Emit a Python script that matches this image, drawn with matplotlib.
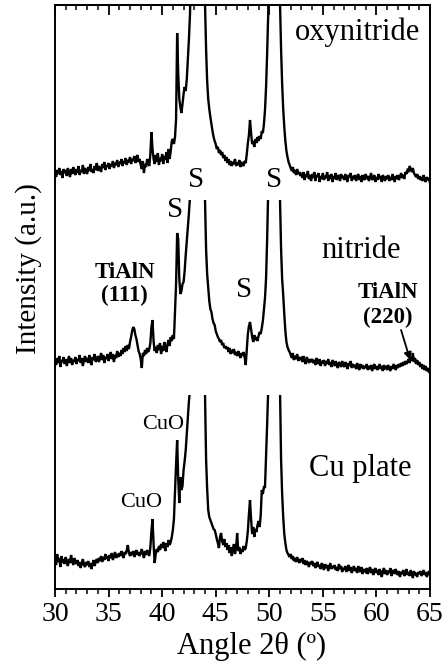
import numpy as np
import matplotlib
matplotlib.use("Agg")
from matplotlib import pyplot as plt
from matplotlib.patches import Rectangle
from matplotlib.ticker import MultipleLocator

plt.rcParams['font.family'] = ['Liberation Serif', 'DejaVu Serif']

# 2theta scan, 0.1 deg step
two_theta = np.linspace(30, 65, 351)

cu_plate = [
    29, 24, 35, 27, 31, 22, 33, 26, 30, 25,
    32, 27, 23, 30, 26, 34, 28, 24, 31, 27,
    25, 29, 23, 27, 21, 26, 30, 24, 22, 27,
    24, 28, 22, 26, 20, 25, 29, 23, 27, 30,
    26, 31, 28, 33, 27, 32, 29, 35, 30, 33,
    28, 34, 31, 36, 29, 33, 37, 31, 35, 32,
    36, 33, 38, 34, 31, 37, 35, 39, 44, 36,
    33, 37, 34, 38, 32, 36, 39, 34, 37, 33,
    36, 40, 35, 31, 38, 34, 39, 36, 33, 42,
    58, 70, 45, 26, 35, 40, 37, 43, 39, 45,
    41, 47, 43, 38, 46, 42, 49, 44, 47, 52,
    59, 70, 99, 125, 149, 110, 86, 112, 99, 103,
    119, 128, 139, 155, 172, 188, 200, 280, 480, 900,
    1600, 2800, 3800, 4200, 3600, 2400, 1300, 700, 400, 260,
    196, 130, 100, 79, 72, 69, 66, 63, 60, 59,
    55, 50, 46, 41, 52, 56, 48, 44, 50, 42,
    46, 39, 44, 36, 42, 33, 40, 45, 35, 41,
    56, 38, 42, 35, 40, 37, 43, 39, 41, 48,
    58, 75, 89, 70, 55, 62, 52, 60, 57, 64,
    68, 62, 74, 99, 95, 102, 102, 132, 165, 200,
    270, 500, 1150, 2300, 2700, 2100, 1150, 620, 390, 270,
    200, 130, 95, 72, 55, 46, 39, 36, 34, 32,
    35, 30, 33, 28, 31, 27, 32, 29, 26, 30,
    27, 31, 25, 29, 24, 28, 26, 22, 27, 25,
    28, 23, 26, 21, 25, 27, 22, 24, 20, 26,
    23, 19, 25, 21, 24, 18, 22, 26, 20, 23,
    21, 24, 19, 22, 18, 25, 20, 23, 17, 21,
    19, 23, 17, 21, 24, 18, 22, 16, 20, 23,
    18, 21, 16, 23, 19, 17, 22, 15, 20, 18,
    17, 21, 15, 19, 22, 16, 20, 14, 18, 21,
    16, 19, 14, 20, 17, 12, 18, 21, 15, 19,
    14, 18, 16, 21, 13, 17, 19, 15, 20, 16,
    14, 18, 12, 17, 15, 19, 13, 16, 20, 14,
    17, 13, 19, 15, 11, 18, 14, 16, 12, 17,
    15, 18, 13, 16, 19, 14, 17, 12, 15, 18,
    14,
]

nitride = [
    28, 24, 31, 26, 33, 22, 29, 27, 32, 25,
    30, 23, 28, 33, 26, 31, 24, 29, 27, 32,
    25, 30, 28, 34, 26, 31, 23, 29, 33, 27,
    31, 26, 34, 28, 24, 32, 29, 35, 27, 30,
    33, 27, 31, 36, 29, 34, 26, 32, 30, 35,
    28, 33, 37, 30, 35, 27, 34, 31, 38, 32,
    36, 33, 39, 35, 41, 37, 43, 38, 44, 40,
    47, 52, 58, 62, 60, 54, 50, 44, 38, 35,
    30, 21, 36, 33, 39, 35, 41, 37, 40, 46,
    62, 69, 48, 38, 42, 36, 44, 39, 46, 35,
    43, 38, 47, 41, 37, 45, 49, 43, 52, 48,
    54, 50, 77, 105, 156, 150, 110, 95, 98, 105,
    107, 118, 134, 148, 161, 176, 192, 260, 450, 850,
    1500, 2600, 3600, 4000, 3400, 2200, 1200, 650, 380, 250,
    190, 140, 115, 101, 88, 80, 77, 70, 66, 64,
    58, 55, 52, 50, 47, 49, 44, 46, 41, 43,
    40, 42, 37, 41, 35, 39, 36, 40, 34, 37,
    33, 38, 35, 31, 36, 33, 37, 32, 24, 40,
    55, 63, 67, 60, 52, 47, 54, 49, 52, 48,
    53, 57, 55, 61, 68, 80, 91, 111, 150, 200,
    260, 480, 1100, 2200, 2600, 2000, 1100, 600, 380, 260,
    190, 140, 110, 94, 75, 58, 47, 42, 39, 37,
    34, 31, 36, 29, 33, 30, 35, 28, 32, 30,
    31, 27, 33, 28, 25, 32, 29, 26, 30, 27,
    30, 26, 29, 24, 31, 27, 25, 30, 23, 28,
    26, 29, 23, 28, 25, 30, 24, 27, 22, 29,
    26, 23, 28, 24, 21, 27, 25, 22, 28, 24,
    22, 27, 24, 20, 26, 23, 28, 21, 25, 22,
    24, 20, 26, 22, 19, 25, 21, 24, 20, 23,
    21, 25, 19, 23, 20, 24, 18, 22, 25, 20,
    23, 19, 22, 25, 20, 23, 18, 24, 21, 22,
    19, 24, 21, 18, 23, 20, 25, 22, 19, 24,
    21, 25, 22, 26, 23, 27, 24, 28, 25, 27,
    30, 26, 32, 28, 36, 27, 31, 25, 29, 24,
    27, 22, 25, 20, 24, 19, 23, 18, 21, 17,
    16,
]

oxynitride = [
    27, 22, 29, 25, 31, 24, 28, 21, 30, 26,
    29, 23, 31, 26, 22, 30, 25, 32, 27, 24,
    30, 26, 33, 24, 29, 27, 34, 25, 31, 28,
    25, 32, 28, 35, 27, 30, 26, 33, 29, 36,
    28, 33, 30, 27, 35, 31, 37, 29, 34, 32,
    36, 30, 35, 33, 38, 31, 36, 34, 39, 32,
    37, 35, 40, 33, 38, 36, 41, 34, 39, 37,
    42, 35, 40, 38, 43, 36, 41, 44, 37, 40,
    34, 30, 38, 26, 35, 32, 40, 36, 33, 45,
    67, 50, 40, 35, 44, 37, 46, 34, 41, 38,
    45, 35, 43, 39, 47, 36, 50, 40, 48, 58,
    60, 55, 62, 80, 166, 125, 100, 92, 86, 95,
    105, 112, 108, 120, 140, 160, 185, 240, 420, 800,
    1500, 2600, 3600, 4000, 3400, 2200, 1200, 650, 380, 250,
    196, 150, 118, 100, 90, 82, 75, 68, 62, 58,
    55, 50, 52, 46, 49, 44, 47, 41, 44, 38,
    42, 36, 40, 34, 38, 33, 37, 35, 40, 33,
    36, 34, 39, 32, 37, 35, 33, 38, 36, 45,
    56, 64, 79, 66, 55, 58, 52, 60, 56, 62,
    58, 63, 60, 68, 66, 75, 89, 112, 146, 185,
    260, 480, 1100, 2200, 2600, 2000, 1100, 600, 380, 260,
    196, 150, 115, 90, 72, 58, 48, 42, 37, 34,
    31, 28, 32, 26, 29, 24, 30, 25, 27, 23,
    26, 21, 27, 19, 25, 22, 28, 20, 24, 18,
    25, 21, 27, 18, 24, 22, 26, 17, 23, 20,
    26, 19, 23, 21, 27, 18, 24, 20, 25, 17,
    23, 20, 26, 19, 22, 24, 18, 25, 21, 23,
    19, 25, 21, 17, 24, 22, 26, 18, 23, 20,
    24, 18, 22, 25, 19, 23, 17, 24, 21, 19,
    25, 20, 23, 18, 22, 26, 19, 21, 24, 17,
    22, 19, 25, 20, 23, 17, 24, 21, 18, 23,
    20, 24, 18, 22, 19, 25, 21, 17, 23, 20,
    24, 19, 22, 26, 21, 24, 20, 27, 25, 29,
    28, 33, 30, 27, 31, 26, 24, 22, 25, 20,
    23, 19, 22, 18, 24, 20, 17, 22, 19, 21,
    16,
]

patterns = [cu_plate, nitride, oxynitride]
offsets = [0, 200, 390]
cut_heights = [194, 389, 584]  # lower patterns stop below the one above
sample_names = ["Cu plate", "nitride", "oxynitride"]
name_pos = [(58.5, 121), (58.6, 339), (58.2, 557)]

fig = plt.figure(figsize=(4.48, 6.67), dpi=100)
ax = fig.add_axes([0.1228, 0.1169, 0.837, 0.8756])

for y, off, cut in zip(patterns, offsets, cut_heights):
    line, = ax.plot(two_theta, np.array(y) + off, color='black', lw=1.7,
                    solid_joinstyle='miter')
    clip = Rectangle((30, -100), 35, cut + 100, transform=ax.transData)
    line.set_clip_path(clip)

for name, (x, y) in zip(sample_names, name_pos):
    ax.text(x, y, name, fontsize=22, ha='center', va='center')

# substrate reflections
for x, y in [(43.2, 409), (50.45, 409), (41.2, 379), (47.65, 299)]:
    ax.text(x, y, "S", fontsize=21, ha='center', va='center')

ax.text(40.1, 165, "CuO", fontsize=16, ha='center', va='center')
ax.text(38.0, 87, "CuO", fontsize=16, ha='center', va='center')

ax.text(36.5, 305, "TiAlN\n(111)", fontsize=16.5, fontweight='bold',
        ha='center', va='center', linespacing=1.15)
ax.text(61.1, 284, "TiAlN\n(220)", fontsize=16.5, fontweight='bold',
        ha='center', va='center', linespacing=1.3)
ax.annotate("", xy=(63.15, 229), xytext=(62.3, 259),
            arrowprops=dict(arrowstyle='-|>', color='black', lw=1.3,
                            mutation_scale=11, shrinkA=0, shrinkB=0))

ax.set_xlim(30, 65)
ax.set_ylim(0, 584)
ax.set_yticks([])
ax.xaxis.set_major_locator(MultipleLocator(5))
ax.xaxis.set_minor_locator(MultipleLocator(1))
ax.tick_params(axis='x', which='major', direction='out', length=6, width=1.3,
               labelsize=20, pad=3)
ax.tick_params(axis='x', which='minor', direction='out', length=3.5, width=1.1)

top = ax.secondary_xaxis('top')
top.xaxis.set_major_locator(MultipleLocator(5))
top.xaxis.set_minor_locator(MultipleLocator(1))
top.tick_params(axis='x', which='major', direction='in', length=7, width=1.3,
                labeltop=False)
top.tick_params(axis='x', which='minor', direction='in', length=3.5, width=1.1)

for s in list(ax.spines.values()) + list(top.spines.values()):
    s.set_linewidth(1.4)

ax.set_xlabel("Angle 2θ (º)", fontsize=22)
ax.xaxis.set_label_coords(0.523, -0.073)
ax.set_ylabel("Intensity (a.u.)", fontsize=21)
ax.yaxis.set_label_coords(-0.035, 0.548)

plt.savefig("out.png", dpi=100)
